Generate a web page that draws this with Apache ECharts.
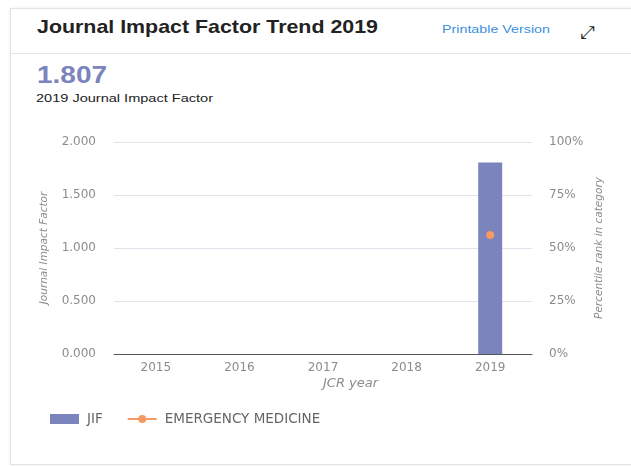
<!DOCTYPE html>
<html><head><meta charset="utf-8">
<script src="https://cdn.jsdelivr.net/npm/echarts@6/dist/echarts.min.js"></script>
<style>
html,body{margin:0;padding:0;width:631px;height:466px;background:#fff;overflow:hidden;font-family:"Liberation Sans",Arial,sans-serif;}
#card{position:absolute;left:10px;top:8px;width:640px;height:455px;background:#fff;border:1px solid #e4e4e8;box-shadow:0 0 3px rgba(0,0,0,0.08);}
#hdr{position:absolute;left:10px;top:8px;width:640px;height:45px;border-bottom:1px solid #e4e4e8;}
.t{position:absolute;white-space:nowrap;transform-origin:0 50%;}
#title{left:37px;top:16px;font-size:18.5px;font-weight:bold;color:#222;}
#print{left:442px;top:23px;font-size:11.5px;color:#3d8fe0;}
#arrow{left:580px;top:22px;font-size:18px;color:#222;}
#big{left:37px;top:62px;font-size:23px;font-weight:bold;color:#7b84bc;}
#sub{left:36px;top:92px;font-size:10.5px;color:#222;}
#chart{position:absolute;left:0;top:0;width:631px;height:466px;}
</style></head>
<body>
<div id="card"></div><div id="hdr"></div>
<div class="t" id="title" data-w="341">Journal Impact Factor Trend 2019</div>
<div class="t" id="print" data-w="108">Printable Version</div>
<div class="t" id="arrow">⤢</div>
<div class="t" id="big" data-w="70">1.807</div>
<div class="t" id="sub" data-w="177">2019 Journal Impact Factor</div>
<div id="chart"></div>
<script>
const years = ['2015','2016','2017','2018','2019'];
const jif = [null, null, null, null, 1.807];
const percentile = [null, null, null, null, 56.1];
const leftTicks = [0, 0.5, 1, 1.5, 2];
const rightTicks = [0, 25, 50, 75, 100];

document.querySelectorAll('.t[data-w]').forEach(el => {
  const w = el.getBoundingClientRect().width;
  el.style.transform = 'scaleX(' + (parseFloat(el.dataset.w) / w) + ')';
});

const chart = echarts.init(document.getElementById('chart'));
const gray = '#8c8c8c';
const font = '"DejaVu Sans", sans-serif';
chart.setOption({
  animation: false,
  textStyle: {fontFamily: font},
  grid: {left: 114, right: 99, top: 142, bottom: 112, containLabel: false},
  legend: {
    left: 45, top: 407, itemWidth: 29, itemHeight: 10, itemGap: 24,
    textStyle: {color: '#666', fontSize: 13.5, fontFamily: font, padding: [0, 0, 0, 3]},
    data: [{name: 'JIF', icon: 'rect'}, {name: 'EMERGENCY MEDICINE'}]
  },
  xAxis: {
    type: 'category', data: years, boundaryGap: true,
    name: 'JCR year', nameLocation: 'middle', nameGap: 23,
    nameTextStyle: {color: gray, fontStyle: 'italic', fontSize: 13, align: 'left', fontFamily: font},
    axisLine: {lineStyle: {color: '#555'}},
    axisTick: {alignWithLabel: true, length: 5, lineStyle: {color: '#555'}},
    axisLabel: {color: gray, fontSize: 12, margin: 8, fontFamily: font}
  },
  yAxis: [{
    type: 'value', min: leftTicks[0], max: leftTicks[leftTicks.length-1], interval: 0.5,
    name: 'Journal Impact Factor', nameLocation: 'middle', nameGap: 64, nameRotate: 90,
    nameTextStyle: {color: gray, fontStyle: 'italic', fontSize: 10.5, fontFamily: font},
    axisLine: {show: false}, axisTick: {show: false},
    axisLabel: {color: gray, fontSize: 12, margin: 18, fontFamily: font, formatter: v => v.toFixed(3)},
    splitLine: {lineStyle: {color: '#e3e3ee'}}
  }, {
    type: 'value', min: rightTicks[0], max: rightTicks[rightTicks.length-1], interval: 25,
    name: 'Percentile rank in category', nameLocation: 'middle', nameGap: 62, nameRotate: 90,
    nameTextStyle: {color: gray, fontStyle: 'italic', fontSize: 10.5, fontFamily: font},
    axisLine: {show: false}, axisTick: {show: false},
    axisLabel: {color: gray, fontSize: 12, margin: 17, fontFamily: font, formatter: v => v + '%'},
    splitLine: {show: false}
  }],
  series: [{
    name: 'JIF', type: 'bar', data: jif, barWidth: 24,
    itemStyle: {color: '#7b84bc'}
  }, {
    name: 'EMERGENCY MEDICINE', type: 'line', yAxisIndex: 1, data: percentile,
    symbol: 'circle', symbolSize: 8, showSymbol: true,
    itemStyle: {color: '#f59a62'}, lineStyle: {color: '#f59a62', width: 2}
  }]
});
</script>
</body></html>
